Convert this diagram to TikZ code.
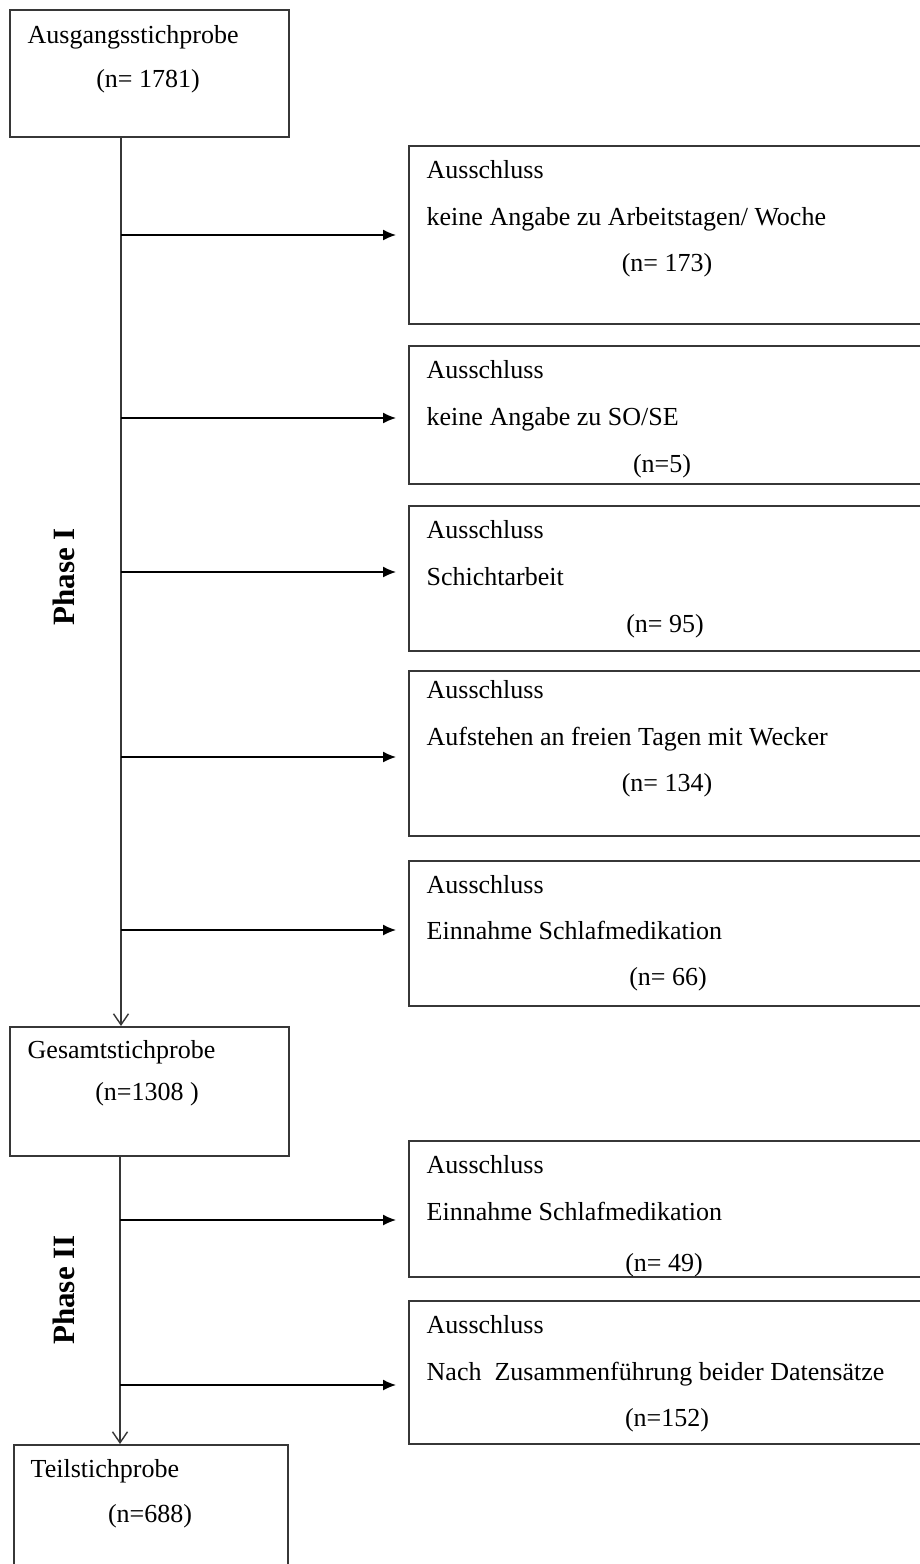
\documentclass[tikz,border=0pt]{standalone}
\usepackage{fontspec}
\setmainfont{Liberation Serif}
\usetikzlibrary{positioning,arrows.meta,calc}
\definecolor{FrameGray}{RGB}{55,55,55}

\begin{document}
\begin{tikzpicture}[x=1pt,y=-1pt, line width=1.4pt,
    every node/.style={font=\fontsize{26}{30}\selectfont, inner sep=0pt},
    sbox/.style={draw=FrameGray, line width=1.5pt, anchor=north west, minimum width=279pt},
    xbox/.style={draw=FrameGray, line width=1.5pt, anchor=north west, minimum width=540pt},
    txt/.style={anchor=base west},
    num/.style={anchor=base},
    excl/.style={-{Latex[length=13pt,width=11pt]}, shorten >=12pt},
    flow/.style={-{Straight Barb[length=11pt,width=15pt]}}]
  \clip (0,0) rectangle (920,1564);
  \fill[white] (0,0) rectangle (920,1564);

  % left column
  \node[sbox, minimum height=127pt] (start) at (9,9) {};
  \node[txt] (startT) at (27,43) {Ausgangsstichprobe};
  \node[num] (startN) at (148,87) {(n= 1781)};
  \node[sbox, minimum height=129pt] (total) at (9,1026) {};
  \node[txt] (totalT) at (27,1058) {Gesamtstichprobe};
  \node[num] (totalN) at (147,1100) {(n=1308 )};
  \node[sbox, minimum width=274pt, minimum height=140pt] (sub) at (13,1444) {};
  \node[txt] (subT) at (30,1477) {Teilstichprobe};
  \node[num] (subN) at (150,1522) {(n=688)};

  \node[rotate=90, font=\fontsize{31}{34}\selectfont\bfseries] (phaseA) at (64,577) {Phase I};
  \node[rotate=90, font=\fontsize{31}{34}\selectfont\bfseries] (phaseB) at (64,1290) {Phase II};

  % exclusion boxes
  \node[xbox, minimum height=178pt] (ex1) at (408,145) {};
  \node[txt] (ex1a) at (426,178) {Ausschluss};
  \node[txt] (ex1b) at (426,225) {keine Angabe zu Arbeitstagen/ Woche};
  \node[num] (ex1c) at (667,271) {(n= 173)};

  \node[xbox, minimum height=138pt] (ex2) at (408,345) {};
  \node[txt] (ex2a) at (426,378) {Ausschluss};
  \node[txt] (ex2b) at (426,425) {keine Angabe zu SO/SE};
  \node[num] (ex2c) at (662,472) {(n=5)};

  \node[xbox, minimum height=145pt] (ex3) at (408,505) {};
  \node[txt] (ex3a) at (426,538) {Ausschluss};
  \node[txt] (ex3b) at (426,585) {Schichtarbeit};
  \node[num] (ex3c) at (665,632) {(n= 95)};

  \node[xbox, minimum height=165pt] (ex4) at (408,670) {};
  \node[txt] (ex4a) at (426,698) {Ausschluss};
  \node[txt] (ex4b) at (426,745) {Aufstehen an freien Tagen mit Wecker};
  \node[num] (ex4c) at (667,791) {(n= 134)};

  \node[xbox, minimum height=145pt] (ex5) at (408,860) {};
  \node[txt] (ex5a) at (426,893) {Ausschluss};
  \node[txt] (ex5b) at (426,939) {Einnahme Schlafmedikation};
  \node[num] (ex5c) at (668,985) {(n= 66)};

  \node[xbox, minimum height=136pt] (ex6) at (408,1140) {};
  \node[txt] (ex6a) at (426,1173) {Ausschluss};
  \node[txt] (ex6b) at (426,1220) {Einnahme Schlafmedikation};
  \node[num] (ex6c) at (664,1271) {(n= 49)};

  \node[xbox, minimum height=143pt] (ex7) at (408,1300) {};
  \node[txt] (ex7a) at (426,1333) {Ausschluss};
  \node[txt] (ex7b) at (426,1380) {Nach\ \ Zusammenführung beider Datensätze};
  \node[num] (ex7c) at (667,1426) {(n=152)};

  % trunk and branches
  \draw[flow, FrameGray] (start.south -| 121,0) -- (total.north -| 121,0);
  \draw[flow, FrameGray] (total.south -| 120,0) -- (sub.north -| 120,0);
  \coordinate (b1) at (121,235);
  \coordinate (b2) at (121,418);
  \coordinate (b3) at (121,572);
  \coordinate (b4) at (121,757);
  \coordinate (b5) at (121,930);
  \coordinate (b6) at (120,1220);
  \coordinate (b7) at (120,1385);
  \foreach \i in {1,...,7}
    \draw[excl] (b\i) -- (b\i -| ex\i.west);
\end{tikzpicture}
\end{document}
